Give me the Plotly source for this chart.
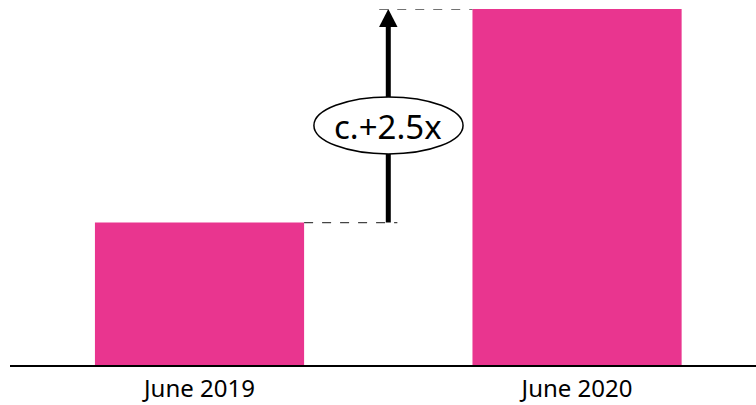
import plotly.graph_objects as go

categories = ["June 2019", "June 2020"]
values = [40, 100]
multiple_label = "c.+2.5x"

pink = "#E9358F"
x_pos = [0, 1]
bw = 0.554
arrow_x = 0.5

fig = go.Figure()
fig.add_trace(go.Bar(x=x_pos, y=values, width=bw, marker=dict(color=pink, line=dict(width=0)),
                     hoverinfo="skip"))

ymax = values[1]
shapes = []
# dashed guides
shapes.append(dict(type="line", xref="x", yref="y", x0=x_pos[0] + bw / 2, x1=arrow_x + 0.024,
                   y0=values[0], y1=values[0], line=dict(color="#444444", width=1.4, dash="dash")))
shapes.append(dict(type="line", xref="x", yref="y", x0=arrow_x - 0.024, x1=x_pos[1] - bw / 2,
                   y0=values[1], y1=values[1], line=dict(color="#444444", width=1.4, dash="dash")))
# arrow shaft
head_len = ymax * 18 / 356
shapes.append(dict(type="line", xref="x", yref="y", x0=arrow_x, x1=arrow_x,
                   y0=values[0], y1=values[1] - head_len + 0.5, line=dict(color="black", width=5)))
# arrow head
hw = 0.0245
shapes.append(dict(type="path", xref="x", yref="y",
                   path=f"M {arrow_x - hw},{values[1] - head_len} L {arrow_x},{values[1]} L {arrow_x + hw},{values[1] - head_len} Z",
                   fillcolor="black", line=dict(color="black", width=0)))
# ellipse
shapes.append(dict(type="circle", xref="x", yref="y", x0=0.303, x1=0.698, y0=59.3, y1=75.3,
                   fillcolor="white", line=dict(color="black", width=1.5), layer="above"))

fig.update_layout(
    shapes=shapes,
    annotations=[dict(x=arrow_x, y=67.0, xref="x", yref="y", text=multiple_label, showarrow=False,
                      font=dict(size=33, color="black", family="Noto Sans"))],
    width=756, height=405,
    margin=dict(l=10, r=0, t=9, b=40),
    paper_bgcolor="white", plot_bgcolor="white",
    showlegend=False,
    font=dict(family="Noto Sans", color="black"),
    xaxis=dict(range=[-0.502, 1.474], tickvals=x_pos, ticktext=categories, automargin=False,
               showgrid=False, zeroline=False, showline=True, linecolor="black", linewidth=1.5,
               ticks="outside", ticklen=1, tickcolor="rgba(0,0,0,0)",
               tickfont=dict(size=24, color="black", family="Noto Sans")),
    yaxis=dict(range=[0, ymax], visible=False, showgrid=False, zeroline=False, automargin=False),
)

fig.write_html("out.html")
